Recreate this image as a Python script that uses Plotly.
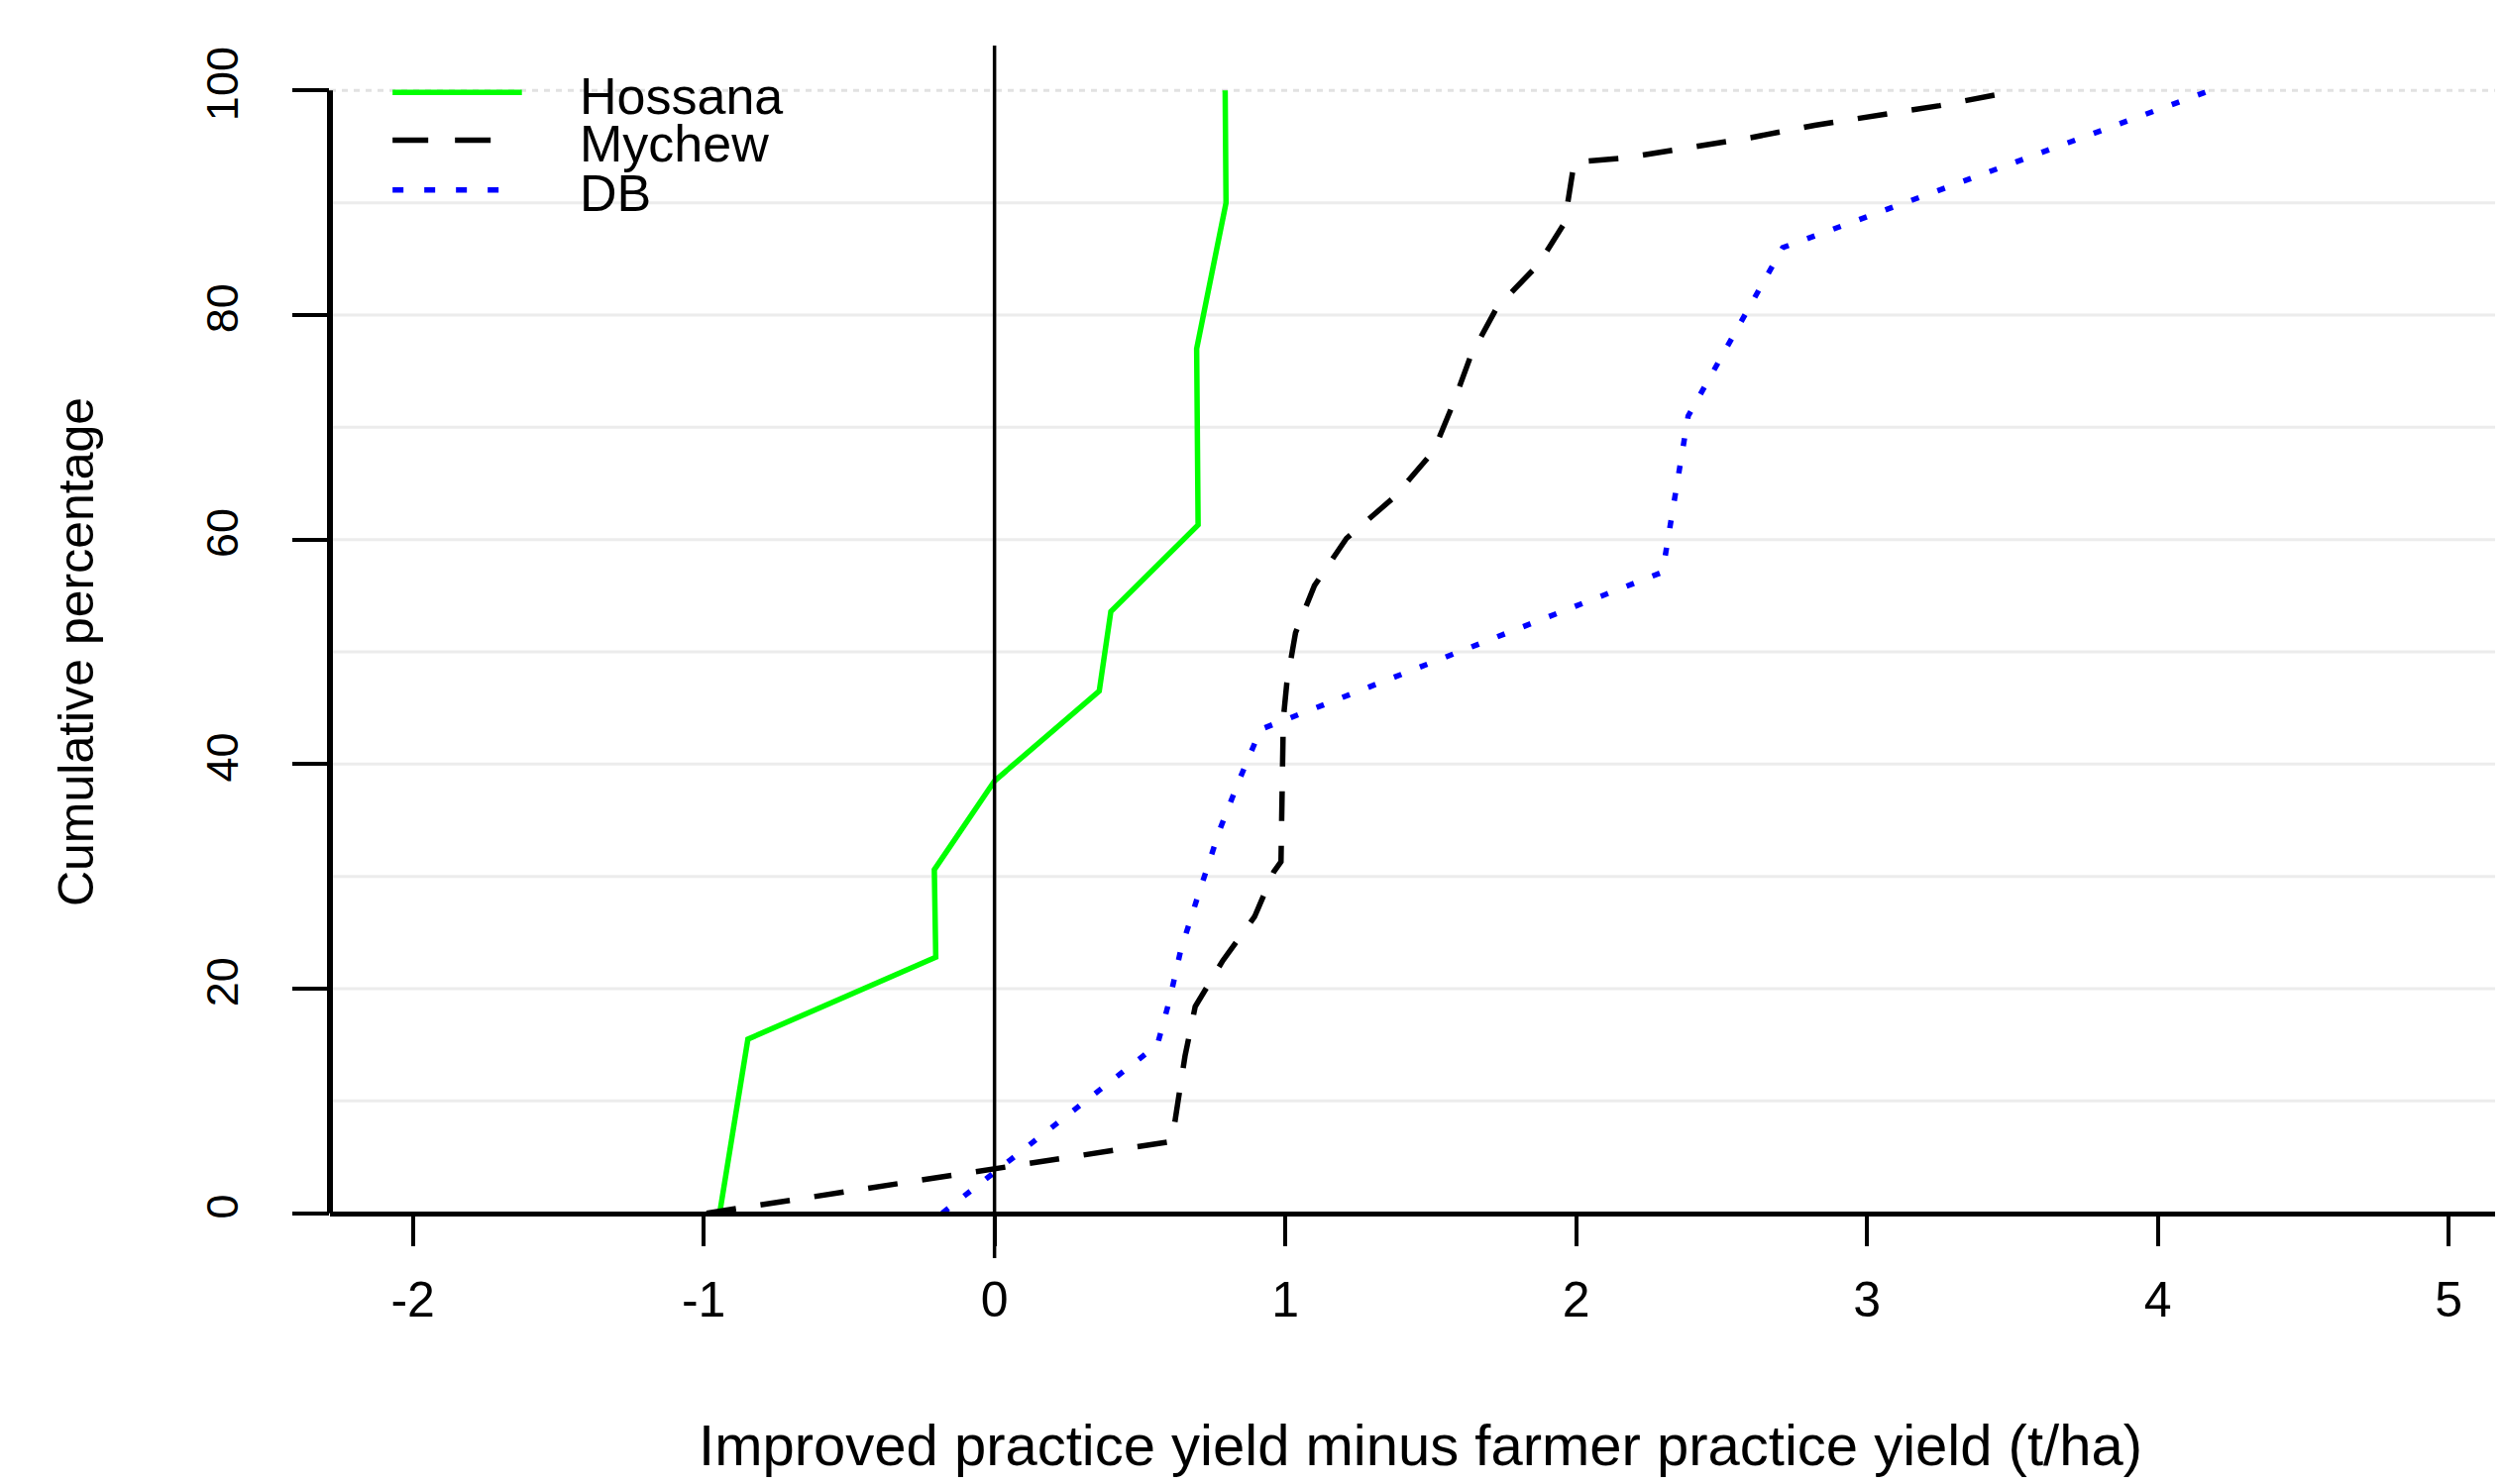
import plotly.graph_objects as go

# ---- data ----
hossana_x = [-0.945, -0.848, -0.202, -0.207, 0.0, 0.36, 0.40, 0.70, 0.695, 0.796, 0.793]
hossana_y = [0, 15.5, 22.8, 30.6, 38.5, 46.5, 53.6, 61.3, 77.0, 90.0, 100]

mychew_x = [-0.99, 0.61, 0.63, 0.655, 0.69, 0.785, 0.894, 0.96, 0.985, 0.993, 1.005, 1.035,
            1.10, 1.21, 1.375, 1.51, 1.577, 1.638, 1.728, 1.87, 1.96, 1.993, 2.17, 2.385,
            2.60, 2.82, 3.03, 3.25, 3.52]
mychew_y = [0, 6.4, 9.8, 14.0, 18.4, 22.5, 26.4, 30.4, 31.3, 44.0, 47.2, 51.7,
            55.9, 60.1, 63.8, 67.9, 72.1, 76.4, 80.7, 84.5, 88.2, 93.6, 94.0, 94.9,
            95.8, 96.9, 97.7, 98.65, 100]

db_x = [-0.18, 0.56, 0.603, 0.64, 0.70, 0.775, 0.84, 0.915, 1.005, 2.297, 2.385, 2.71, 4.18]
db_y = [0, 15.0, 19.1, 23.4, 28.3, 34.2, 38.5, 43.1, 44.0, 57.1, 71.0, 86.0, 100]

series_names = ["Hossana", "Mychew", "DB"]
series_colors = ["#00FF00", "#000000", "#0000FF"]

x_ticks = [-2, -1, 0, 1, 2, 3, 4, 5]
y_ticks = [0, 20, 40, 60, 80, 100]
grid_y = [10, 20, 30, 40, 50, 60, 70, 80, 90]

FONT = "Liberation Sans, Arial, sans-serif"
LW = 5.5

fig = go.Figure()
fig.add_trace(go.Scatter(x=hossana_x, y=hossana_y, mode="lines", name=series_names[0],
                         line=dict(color=series_colors[0], width=LW), showlegend=False))
fig.add_trace(go.Scatter(x=mychew_x, y=mychew_y, mode="lines", name=series_names[1],
                         line=dict(color=series_colors[1], width=LW, dash="30px,25px"),
                         showlegend=False))
fig.add_trace(go.Scatter(x=db_x, y=db_y, mode="lines", name=series_names[2],
                         line=dict(color=series_colors[2], width=LW, dash="8px,20px"),
                         showlegend=False))

shapes = []
# light grid lines
for g in grid_y:
    shapes.append(dict(type="line", xref="paper", x0=0, x1=1, yref="y", y0=g, y1=g,
                       line=dict(color="#ECECEC", width=3), layer="below"))
shapes.append(dict(type="line", xref="paper", x0=0, x1=1, yref="y", y0=100, y1=100,
                   line=dict(color="#E2E2E2", width=3, dash="6px,6px"), layer="below"))
# y axis line (from 0 to 100, R style)
shapes.append(dict(type="line", xref="paper", x0=0, x1=0, yref="y", y0=0, y1=100,
                   line=dict(color="black", width=6)))
# vertical reference line at x = 0
shapes.append(dict(type="line", xref="x", x0=0, x1=0, yref="paper", y0=0, y1=1,
                   line=dict(color="black", width=3.5)))

# manual legend (R-style long line samples)
leg_y = [0.9613, 0.9220, 0.8810]
leg_dash = ["solid", "36px,27px", "11px,21px"]
leg_x1 = [0.0880, 0.0760, 0.0780]
annotations = []
for i in range(3):
    shapes.append(dict(type="line", xref="paper", yref="paper", x0=0.0287, x1=leg_x1[i],
                       y0=leg_y[i], y1=leg_y[i],
                       line=dict(color=series_colors[i], width=LW, dash=leg_dash[i])))
    annotations.append(dict(xref="paper", yref="paper", x=0.1135, y=leg_y[i] - 0.003,
                            xanchor="left", yanchor="middle", showarrow=False,
                            text=series_names[i],
                            font=dict(family=FONT, size=52, color="black")))

fig.update_layout(
    width=2526, height=1498,
    margin=dict(l=325, r=0, t=38, b=236, pad=0),
    paper_bgcolor="white", plot_bgcolor="white",
    shapes=shapes, annotations=annotations,
    font=dict(family=FONT, color="black"),
    xaxis=dict(range=[-2.285, 5.214], tickvals=x_ticks, ticktext=[str(v) for v in x_ticks],
               showgrid=False, zeroline=False, showline=True, linecolor="black", linewidth=4.5,
               ticks="outside", ticklen=31, tickwidth=4, tickcolor="black",
               ticklabelstandoff=11,
               tickfont=dict(family=FONT, size=50, color="black"),
               anchor="free", position=4 / 108, automargin=False,
               title=dict(text="Improved practice yield minus farmer practice yield (t/ha)",
                          font=dict(family=FONT, size=58, color="black"), standoff=98)),
    yaxis=dict(range=[-4, 104], tickvals=y_ticks, ticktext=[str(v) for v in y_ticks],
               showgrid=False, zeroline=False, showline=False,
               ticks="outside", ticklen=37, tickwidth=4, tickcolor="black",
               tickangle=-90, ticklabelstandoff=37,
               tickfont=dict(family=FONT, size=45, color="black"), automargin=False,
               title=dict(text="Cumulative percentage",
                          font=dict(family=FONT, size=50, color="black"), standoff=88)),
)

fig.write_html("out.html")
